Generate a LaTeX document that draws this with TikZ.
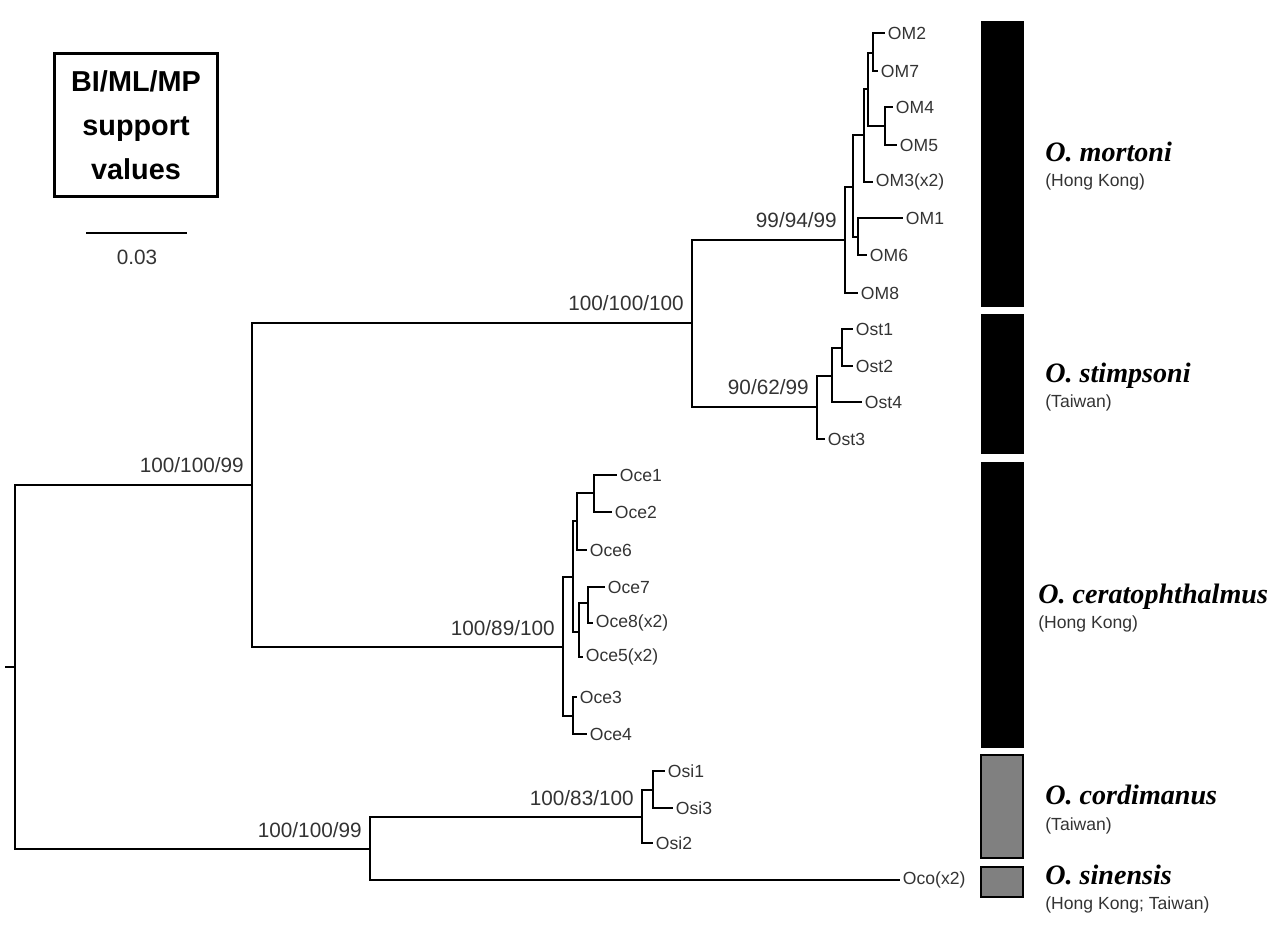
\documentclass[tikz,border=0pt]{standalone}
\usepackage{fontspec}
\setmainfont{Liberation Sans}
\newfontfamily\spfont{Liberation Serif}
\usetikzlibrary{positioning,calc}
\definecolor{labgrey}{RGB}{51,51,51}
\definecolor{bargrey}{RGB}{128,128,128}

\begin{document}
\begin{tikzpicture}[x=0.02cm,y=-0.02cm,
  br/.style={line width=1.6pt,line join=miter},
  leaf/.style={anchor=west,inner sep=1.5pt,text=labgrey,font=\fontsize{10}{12}\selectfont},
  supp/.style={anchor=base east,inner sep=0pt,text=labgrey,font=\fontsize{11.8}{14}\selectfont},
  spname/.style={anchor=base west,inner sep=0pt,font=\spfont\bfseries\itshape\fontsize{16}{19}\selectfont},
  sploc/.style={anchor=base west,inner sep=0pt,text=labgrey,font=\fontsize{10}{12}\selectfont},
  blackbar/.style={draw=black,fill=black},
  greybar/.style={draw=black,fill=bargrey,line width=0.6pt}]
\useasboundingbox (0,0) rectangle (1279,929);

% legend and scale bar
\node[draw,line width=1.7pt,minimum width=92.5pt,minimum height=81.6pt,align=center,
  font=\bfseries\fontsize{16.4}{25}\selectfont] (legend) at (136,125) {BI/ML/MP\\support\\values};
\coordinate (sb0) at (86,233);
\coordinate (sb1) at (187,233);
\draw[line width=1.3pt] (sb0) -- (sb1);
\node[text=labgrey,font=\fontsize{11.8}{14}\selectfont] (sblab) at (137,257) {0.03};

% internal nodes
\coordinate (stub) at (5,667);
\coordinate (root) at (15,667);
\coordinate (A) at (252,485);
\coordinate (B) at (692,323);
\coordinate (C) at (370,849);
% mortoni
\coordinate (m0) at (845,240);
\coordinate (m1) at (853,187);
\coordinate (m2) at (864,135);
\coordinate (m3) at (868,89);
\coordinate (m4) at (873,53);
\coordinate (m5) at (858,237);
\coordinate (m6) at (885,126);
% stimpsoni
\coordinate (s0) at (817,407);
\coordinate (s1) at (832,376);
\coordinate (s2) at (842,348);
% ceratophthalmus
\coordinate (c0) at (563,647);
\coordinate (c1) at (573,577);
\coordinate (c2) at (577,521);
\coordinate (c3) at (579,632);
\coordinate (c4) at (594,493);
\coordinate (c5) at (573,716);
\coordinate (c6) at (588,603);
% cordimanus
\coordinate (o0) at (642,817);
\coordinate (o1) at (653,790);

% leaves
\node[leaf] (om2) at (885,33) {OM2};
\node[leaf] (om7) at (878,71) {OM7};
\node[leaf] (om4) at (893,107) {OM4};
\node[leaf] (om5) at (897,145) {OM5};
\node[leaf] (om3) at (873,182) {OM3(x2)};
\node[leaf] (om1) at (903,218) {OM1};
\node[leaf] (om6) at (867,255) {OM6};
\node[leaf] (om8) at (858,293) {OM8};
\node[leaf] (ost1) at (853,329) {Ost1};
\node[leaf] (ost2) at (853,366) {Ost2};
\node[leaf] (ost4) at (862,402) {Ost4};
\node[leaf] (ost3) at (825,439) {Ost3};
\node[leaf] (oce1) at (617,475) {Oce1};
\node[leaf] (oce2) at (612,512) {Oce2};
\node[leaf] (oce6) at (587,550) {Oce6};
\node[leaf] (oce7) at (605,587) {Oce7};
\node[leaf] (oce8) at (593,623) {Oce8(x2)};
\node[leaf] (oce5) at (583,657) {Oce5(x2)};
\node[leaf] (oce3) at (577,697) {Oce3};
\node[leaf] (oce4) at (587,734) {Oce4};
\node[leaf] (osi1) at (665,771) {Osi1};
\node[leaf] (osi3) at (673,808) {Osi3};
\node[leaf] (osi2) at (653,843) {Osi2};
\node[leaf] (oco) at (900,880) {Oco(x2)};

% branches
\draw[br] (stub) -- (root);
\foreach \p/\c in {root/A,root/C,A/B,A/c0,B/m0,B/s0,m0/m1,m1/m2,m1/m5,m2/m3,m3/m4,m3/m6,
  s0/s1,s1/s2,c0/c1,c0/c5,c1/c2,c1/c3,c2/c4,c3/c6,C/o0,o0/o1}
  \draw[br] (\p) |- (\c);
\foreach \p/\c in {m4/om2,m4/om7,m6/om4,m6/om5,m2/om3,m5/om1,m5/om6,m0/om8,
  s2/ost1,s2/ost2,s1/ost4,s0/ost3,c4/oce1,c4/oce2,c2/oce6,c6/oce7,c6/oce8,c3/oce5,
  c5/oce3,c5/oce4,o1/osi1,o1/osi3,o0/osi2,C/oco}
  \draw[br] (\p) |- (\c.west);

% support values
\node[supp] (sA) at ([shift={(-8,-12)}]A) {100/100/99};
\node[supp] (sB) at ([shift={(-8,-12)}]B) {100/100/100};
\node[supp] (sm) at ([shift={(-8,-12)}]m0) {99/94/99};
\node[supp] (ss) at ([shift={(-8,-12)}]s0) {90/62/99};
\node[supp] (sc) at ([shift={(-8,-12)}]c0) {100/89/100};
\node[supp] (sC) at ([shift={(-8,-12)}]C) {100/100/99};
\node[supp] (so) at ([shift={(-8,-12)}]o0) {100/83/100};

% species bars
\draw[blackbar] (981,21) rectangle (1023,306);
\draw[blackbar] (981,314) rectangle (1023,453);
\draw[blackbar] (981,462) rectangle (1023,747);
\draw[greybar] (981,755) rectangle (1023,858);
\draw[greybar] (981,867) rectangle (1023,897);

\node[spname] (mort) at (1045,162) {O. mortoni};
\node[sploc] (mortloc) at (1045,187) {(Hong Kong)};
\node[spname] (stim) at (1045,383) {O. stimpsoni};
\node[sploc] (stimloc) at (1045,408) {(Taiwan)};
\node[spname] (cera) at (1038,603) {O. ceratophthalmus};
\node[sploc] (ceraloc) at (1038,628) {(Hong Kong)};
\node[spname] (cord) at (1045,804) {O. cordimanus};
\node[sploc] (cordloc) at (1045,830) {(Taiwan)};
\node[spname] (sine) at (1045,884) {O. sinensis};
\node[sploc] (sineloc) at (1045,909) {(Hong Kong; Taiwan)};
\end{tikzpicture}
\end{document}
